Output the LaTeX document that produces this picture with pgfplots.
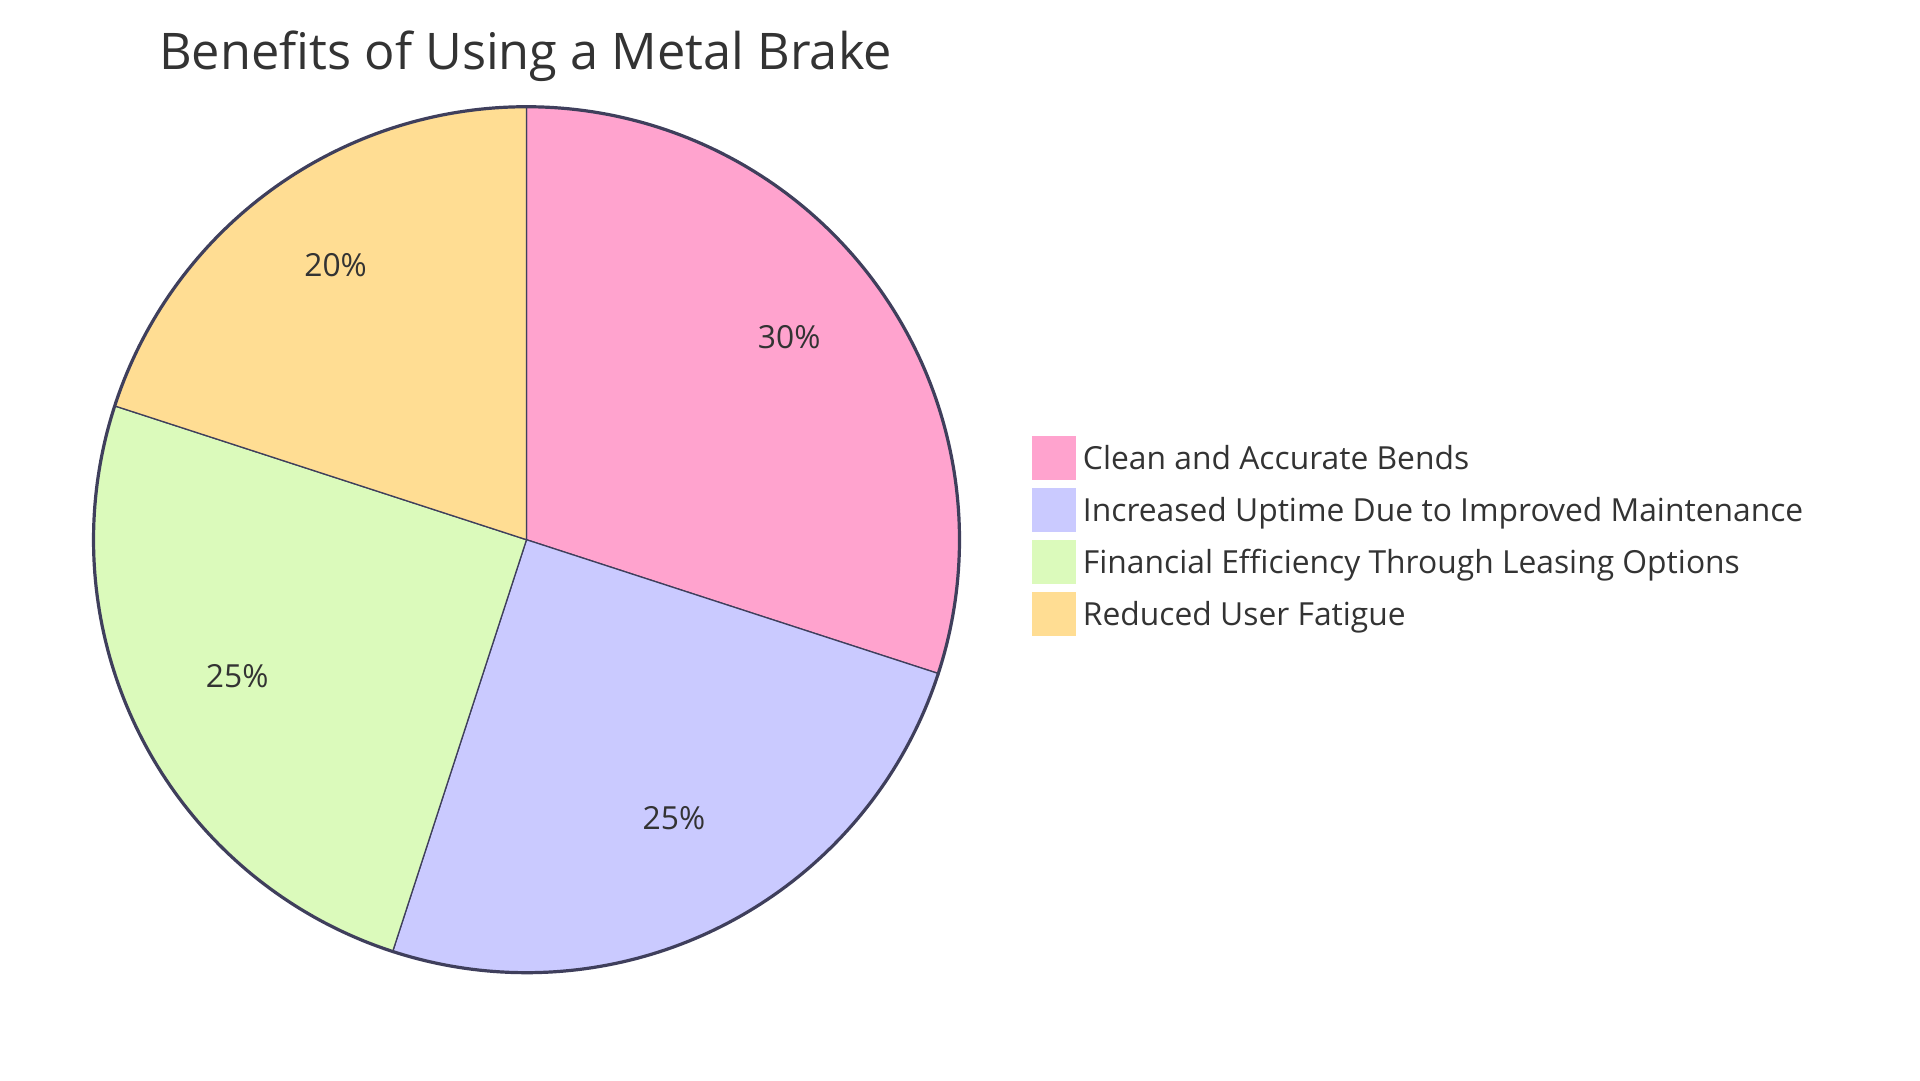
\documentclass[border=0pt]{standalone}
\usepackage{pgfplots}
\pgfplotsset{compat=1.18}
\usepackage{pgfplotstable}
\usepackage{fontspec}
\setmainfont{Open Sans}
\definecolor{c1}{HTML}{FFA3CE}
\definecolor{c2}{HTML}{CACAFF}
\definecolor{c3}{HTML}{DBFABB}
\definecolor{c4}{HTML}{FFDD93}
\definecolor{edgec}{HTML}{3F3F5C}
\definecolor{textc}{HTML}{333333}

\pgfplotstableread{
value
30
25
25
20
}\piedata
\pgfplotstablegetelem{0}{value}\of\piedata \edef\va{\pgfplotsretval}
\pgfplotstablegetelem{1}{value}\of\piedata \edef\vb{\pgfplotsretval}
\pgfplotstablegetelem{2}{value}\of\piedata \edef\vc{\pgfplotsretval}
\pgfplotstablegetelem{3}{value}\of\piedata \edef\vd{\pgfplotsretval}
\pgfmathsetmacro\aA{90}
\pgfmathsetmacro\aB{\aA-3.6*\va}
\pgfmathsetmacro\aC{\aB-3.6*\vb}
\pgfmathsetmacro\aD{\aC-3.6*\vc}
\pgfmathsetmacro\aE{\aD-3.6*\vd}
\pgfmathsetmacro\mA{(\aA+\aB)/2}
\pgfmathsetmacro\mB{(\aB+\aC)/2}
\pgfmathsetmacro\mC{(\aC+\aD)/2}
\pgfmathsetmacro\mD{(\aD+\aE)/2}

\begin{document}
\begin{tikzpicture}
\useasboundingbox (0pt,0pt) rectangle (1920pt,-1080pt);
\begin{axis}[
  at={(526.5pt,-539.7pt)}, anchor=center,
  scale only axis, width=866pt, height=866pt,
  xmin=-1, xmax=1, ymin=-1, ymax=1,
  hide axis, clip=false,
  title={Benefits of Using a Metal Brake},
  title style={at={(axis description cs:0.0757,1.0365)}, anchor=base west, inner sep=0pt,
    font=\fontsize{50.5}{58}\selectfont, text=textc},
  legend cell align=left,
  legend style={at={(axis description cs:1.0837,0.6197)}, anchor=north west,
    draw=none, fill=none, inner sep=0pt, outer sep=0pt,
    row sep=8pt, column sep=7pt,
    font=\fontsize{31.8}{38}\selectfont, text=textc,
    nodes={inner sep=0pt, anchor=west, text height=23pt, text depth=0pt}},
  legend image code/.code={\fill[draw=none] (0pt,-22pt) rectangle (44pt,22pt);},
]
\addplot[fill=c1, draw=edgec, line width=1.3pt, line join=round, domain=\aA:\aB, samples=100] ({cos(x)},{sin(x)}) -- (axis cs:0,0) -- cycle;
\addlegendentry{Clean and Accurate Bends}
\addplot[fill=c2, draw=edgec, line width=1.3pt, line join=round, domain=\aB:\aC, samples=100] ({cos(x)},{sin(x)}) -- (axis cs:0,0) -- cycle;
\addlegendentry{Increased Uptime Due to Improved Maintenance}
\addplot[fill=c3, draw=edgec, line width=1.3pt, line join=round, domain=\aC:\aD, samples=100] ({cos(x)},{sin(x)}) -- (axis cs:0,0) -- cycle;
\addlegendentry{Financial Efficiency Through Leasing Options}
\addplot[fill=c4, draw=edgec, line width=1.3pt, line join=round, domain=\aD:\aE, samples=100] ({cos(x)},{sin(x)}) -- (axis cs:0,0) -- cycle;
\addlegendentry{Reduced User Fatigue}
\addplot[forget plot, draw=edgec, line width=3.2pt, domain=0:360, samples=360] ({cos(x)},{sin(x)});
\node[anchor=base, inner sep=0pt, text=textc, font=\fontsize{31.8}{38}\selectfont] at (axis cs:{0.75*cos(\mA)},{0.75*sin(\mA)}) {\va\%};
\node[anchor=base, inner sep=0pt, text=textc, font=\fontsize{31.8}{38}\selectfont] at (axis cs:{0.75*cos(\mB)},{0.75*sin(\mB)}) {\vb\%};
\node[anchor=base, inner sep=0pt, text=textc, font=\fontsize{31.8}{38}\selectfont] at (axis cs:{0.75*cos(\mC)},{0.75*sin(\mC)}) {\vc\%};
\node[anchor=base, inner sep=0pt, text=textc, font=\fontsize{31.8}{38}\selectfont] at (axis cs:{0.75*cos(\mD)},{0.75*sin(\mD)}) {\vd\%};
\end{axis}
\end{tikzpicture}
\end{document}
